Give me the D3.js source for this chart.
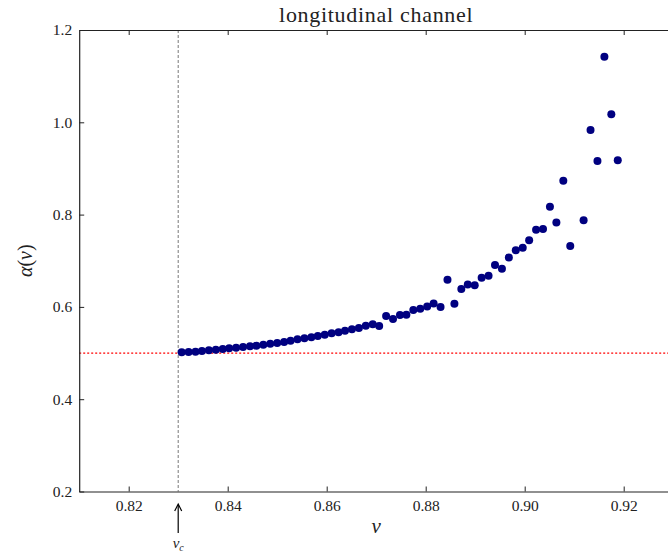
<!DOCTYPE html>
<html lang="en">
<head>
  <meta charset="UTF-8">
  <script src="https://d3js.org/d3.v7.min.js"></script>
  <style>
    body { margin: 0; background: white; }
    text { font-family: "Liberation Serif", "DejaVu Serif", serif; fill: #222; }
    .tick text { font-size: 15.5px; }
  </style>
</head>
<body>
  <script>
    const vValues = [
      0.8307, 0.8321, 0.8335, 0.8348, 0.8362, 0.8376, 0.8390, 0.8403, 0.8417, 0.8431,
      0.8445, 0.8458, 0.8472, 0.8486, 0.8500, 0.8514, 0.8527, 0.8541, 0.8555, 0.8569,
      0.8582, 0.8596, 0.8610, 0.8624, 0.8637, 0.8651, 0.8665, 0.8679, 0.8693, 0.8706,
      0.8720, 0.8734, 0.8748, 0.8761, 0.8775, 0.8789, 0.8803, 0.8816, 0.8830, 0.8844,
      0.8858, 0.8872, 0.8885, 0.8899, 0.8913, 0.8927, 0.8940, 0.8954, 0.8968, 0.8982,
      0.8996, 0.9009, 0.9023, 0.9037, 0.9051, 0.9064, 0.9078, 0.9092,
      0.9119, 0.9133, 0.9147, 0.9161, 0.9175, 0.9188
    ];
    const alphaValues = [
      0.5016, 0.5023, 0.5030, 0.5044, 0.5060, 0.5073, 0.5088, 0.5103, 0.5116, 0.5130,
      0.5146, 0.5160, 0.5180, 0.5200, 0.5218, 0.5240, 0.5268, 0.5297, 0.5320, 0.5341,
      0.5370, 0.5398, 0.5428, 0.5450, 0.5485, 0.5514, 0.5543, 0.5593, 0.5622, 0.5586,
      0.5803, 0.5738, 0.5825, 0.5831, 0.5933, 0.5961, 0.6009, 0.6074, 0.5998, 0.6589,
      0.6069, 0.6388, 0.6485, 0.6468, 0.6633, 0.6674, 0.6908, 0.6826, 0.7070, 0.7229,
      0.7283, 0.7443, 0.7673, 0.7688, 0.8171, 0.7829, 0.8735, 0.7320,
      0.7877, 0.9833, 0.9161, 1.1421, 1.0173, 0.9177
    ];
    const xTicks = [0.82, 0.84, 0.86, 0.88, 0.90, 0.92];
    const yTicks = [0.2, 0.4, 0.6, 0.8, 1.0, 1.2];
    const vCritical = 0.83;
    const alphaRef = 0.5;

    const width = 668, height = 554;
    const margin = { left: 79.2, top: 30 };
    const plotW = 594, plotH = 461.5;

    const svg = d3.select("body").append("svg").attr("width", width).attr("height", height);

    const x = d3.scaleLinear().domain([0.81, 0.93]).range([margin.left, margin.left + plotW]);
    const y = d3.scaleLinear().domain([0.2, 1.2]).range([margin.top + plotH, margin.top]);

    // reference lines
    svg.append("line")
      .attr("x1", x(vCritical)).attr("x2", x(vCritical))
      .attr("y1", y(1.2)).attr("y2", y(0.2))
      .attr("stroke", "#777").attr("stroke-width", 1).attr("stroke-dasharray", "3,2");
    svg.append("line")
      .attr("x1", x(0.81)).attr("x2", x(0.93))
      .attr("y1", y(alphaRef)).attr("y2", y(alphaRef))
      .attr("stroke", "red").attr("stroke-width", 1.2).attr("stroke-dasharray", "2,2");

    // points
    svg.selectAll("circle.pt")
      .data(vValues.map((v, i) => [v, alphaValues[i]]))
      .join("circle")
      .attr("class", "pt")
      .attr("cx", d => x(d[0]))
      .attr("cy", d => y(d[1]))
      .attr("r", 4)
      .attr("fill", "#000080");

    // axes with inward ticks
    const fmtX = d3.format(".2f");
    const fmtY = d3.format(".1f");
    const gBottom = svg.append("g").attr("transform", `translate(0,${y(0.2)})`)
      .call(d3.axisBottom(x).tickValues(xTicks).tickFormat(fmtX).tickSizeInner(-5).tickSizeOuter(0).tickPadding(8));
    const gTop = svg.append("g").attr("transform", `translate(0,${y(1.2)})`)
      .call(d3.axisTop(x).tickValues(xTicks).tickFormat("").tickSizeInner(-5).tickSizeOuter(0));
    const gLeft = svg.append("g").attr("transform", `translate(${x(0.81)},0)`)
      .call(d3.axisLeft(y).tickValues(yTicks).tickFormat(fmtY).tickSizeInner(-5).tickSizeOuter(0).tickPadding(7));
    [gBottom, gTop, gLeft].forEach(g => {
      g.select(".domain").attr("stroke", "#222").attr("stroke-width", 1.2);
      g.selectAll(".tick line").attr("stroke", "#222");
      g.selectAll(".tick text").style("font-family", "'Liberation Serif', serif").attr("fill", "#222");
    });

    // title and labels
    svg.append("text")
      .attr("x", (x(0.81) + x(0.93)) / 2).attr("y", 22)
      .attr("text-anchor", "middle").style("font-size", "22px").style("letter-spacing", "0.7px")
      .text("longitudinal channel");

    svg.append("text")
      .attr("x", x(0.87)).attr("y", 533)
      .attr("text-anchor", "middle").style("font-size", "21px").style("font-style", "italic")
      .text("v");

    const yLab = svg.append("text")
      .attr("transform", `translate(32,${y(0.7)}) rotate(-90)`)
      .attr("text-anchor", "middle").style("font-size", "20px");
    yLab.append("tspan").style("font-style", "italic").text("α");
    yLab.append("tspan").text("(");
    yLab.append("tspan").style("font-style", "italic").text("v");
    yLab.append("tspan").text(")");

    // v_c arrow
    const ax = x(vCritical);
    svg.append("line").attr("x1", ax).attr("x2", ax).attr("y1", 533).attr("y2", 505)
      .attr("stroke", "#000").attr("stroke-width", 1.2);
    svg.append("path")
      .attr("d", `M${ax - 3.5},${511} L${ax},${504} L${ax + 3.5},${511}`)
      .attr("fill", "none").attr("stroke", "#000").attr("stroke-width", 1.2);
    const vc = svg.append("text")
      .attr("x", ax).attr("y", 548)
      .attr("text-anchor", "middle").style("font-size", "15px").style("font-style", "italic");
    vc.append("tspan").text("v");
    vc.append("tspan").attr("dy", 3).style("font-size", "10px").text("c");
  </script>
</body>
</html>
